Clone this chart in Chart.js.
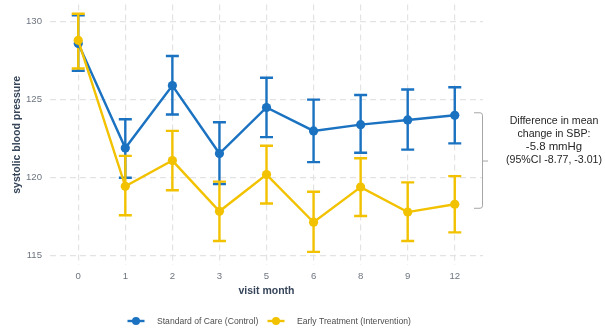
<!DOCTYPE html>
<html>
<head>
<meta charset="utf-8">
<script src="https://cdn.jsdelivr.net/npm/chart.js@4.4.1/dist/chart.umd.min.js"></script>
<style>
  html, body { margin: 0; padding: 0; background: #ffffff; }
  #wrap { width: 605px; height: 329px; position: relative; }
</style>
</head>
<body>
<div id="wrap"><canvas id="chart" width="605" height="329"></canvas></div>
<script>
// Visit months (categorical x axis)
const months = ['0', '1', '2', '3', '5', '6', '8', '9', '12'];

// Standard of Care (Control): mean SBP and 95% CI
const controlMean  = [128.6, 121.9, 125.9, 121.55, 124.5, 123.0, 123.4, 123.7, 124.0];
const controlLower = [126.85, 120.0, 124.05, 119.6, 122.6, 121.0, 121.6, 121.8, 122.2];
const controlUpper = [130.4, 123.75, 127.8, 123.55, 126.4, 125.0, 125.3, 125.65, 125.8];

// Early Treatment (Intervention): mean SBP and 95% CI
const earlyMean  = [128.8, 119.45, 121.1, 117.85, 120.2, 117.15, 119.4, 117.8, 118.3];
const earlyLower = [127.0, 117.6, 119.2, 115.95, 118.35, 115.25, 117.55, 115.95, 116.5];
const earlyUpper = [130.5, 121.4, 123.0, 119.75, 122.05, 119.1, 121.25, 119.7, 120.1];

const yTicks = [115, 120, 125, 130];

const annotationLines = ['Difference in mean', 'change in SBP:', '-5.8 mmHg', '(95%CI -8.77, -3.01)'];

const BLUE = '#1a72c1';
const GOLD = '#f2c200';
const FONT = '"Liberation Sans", Arial, Helvetica, sans-serif';

function toPoints(values) {
  return values.map((v, i) => ({ x: i, y: v }));
}

// Vertical error bars with caps, drawn under the lines and points
const errorBars = {
  id: 'errorBars',
  beforeDatasetsDraw(chart) {
    const { ctx, scales: { x, y } } = chart;
    const cap = 6.5;
    // control first, intervention over it
    const ordered = chart.data.datasets.map((d, i) => i).sort((a, b) => chart.data.datasets[b].order - chart.data.datasets[a].order);
    ctx.save();
    ordered.forEach(i => {
      const ds = chart.data.datasets[i];
      ctx.strokeStyle = ds.borderColor;
      ctx.lineWidth = 2.4;
      ctx.lineCap = 'butt';
      ds.lower.forEach((lo, j) => {
        const px = x.getPixelForValue(j);
        const pLo = y.getPixelForValue(lo);
        const pHi = y.getPixelForValue(ds.upper[j]);
        ctx.beginPath();
        ctx.moveTo(px, pLo); ctx.lineTo(px, pHi);
        ctx.moveTo(px - cap, pLo); ctx.lineTo(px + cap, pLo);
        ctx.moveTo(px - cap, pHi); ctx.lineTo(px + cap, pHi);
        ctx.stroke();
      });
    });
    ctx.restore();
  }
};

// Bracket and text on the right-hand side, and the legend under the axis title
const sideNotes = {
  id: 'sideNotes',
  afterDraw(chart) {
    const { ctx, scales: { y } } = chart;
    const last = months.length - 1;
    const top = y.getPixelForValue(controlMean[last]) - 3;
    const bottom = y.getPixelForValue(earlyMean[last]) + 4.5;
    const mid = (top + bottom) / 2;
    const bx = 482;
    ctx.save();
    ctx.strokeStyle = '#a6a6a6';
    ctx.lineWidth = 1;
    ctx.beginPath();
    ctx.moveTo(474, top + 0.5);
    ctx.lineTo(bx - 2, top + 0.5);
    ctx.quadraticCurveTo(bx + 0.5, top + 0.5, bx + 0.5, top + 3);
    ctx.lineTo(bx + 0.5, bottom - 3);
    ctx.quadraticCurveTo(bx + 0.5, bottom - 0.5, bx - 2, bottom - 0.5);
    ctx.lineTo(474, bottom - 0.5);
    ctx.moveTo(bx + 0.5, mid + 0.5);
    ctx.lineTo(bx + 6, mid + 0.5);
    ctx.stroke();

    // text block, last line level with the bracket's middle tick
    ctx.fillStyle = '#262626';
    ctx.textAlign = 'center';
    ctx.textBaseline = 'middle';
    const cx = 554;
    const gap = 13.3;
    annotationLines.forEach((t, i) => {
      ctx.font = (i === 2 ? '11.4px ' : '10.6px ') + FONT;
      ctx.fillText(t, cx, mid - (annotationLines.length - 1 - i) * gap);
    });

    // legend
    const ly = 321;
    const items = [
      { ds: chart.data.datasets[1], mx: 136, tx: 157 },
      { ds: chart.data.datasets[0], mx: 276, tx: 297 }
    ];
    ctx.textAlign = 'left';
    ctx.font = '8.6px ' + FONT;
    items.forEach(it => {
      ctx.strokeStyle = it.ds.borderColor;
      ctx.lineWidth = 2.4;
      ctx.beginPath();
      ctx.moveTo(it.mx - 8.5, ly); ctx.lineTo(it.mx + 8.5, ly);
      ctx.stroke();
      ctx.fillStyle = it.ds.borderColor;
      ctx.beginPath();
      ctx.arc(it.mx, ly, 4, 0, Math.PI * 2);
      ctx.fill();
      ctx.fillStyle = '#4d4d4d';
      ctx.fillText(it.ds.label, it.tx, ly + 0.5);
    });
    ctx.restore();
  }
};

new Chart(document.getElementById('chart'), {
  type: 'line',
  data: {
    datasets: [
      {
        label: 'Early Treatment (Intervention)',
        data: toPoints(earlyMean),
        lower: earlyLower,
        upper: earlyUpper,
        borderColor: GOLD,
        backgroundColor: GOLD,
        borderWidth: 2.4,
        pointRadius: 4.6,
        pointBorderWidth: 0,
        pointHoverRadius: 4.6,
        tension: 0,
        order: 0
      },
      {
        label: 'Standard of Care (Control)',
        data: toPoints(controlMean),
        lower: controlLower,
        upper: controlUpper,
        borderColor: BLUE,
        backgroundColor: BLUE,
        borderWidth: 2.4,
        pointRadius: 4.6,
        pointBorderWidth: 0,
        pointHoverRadius: 4.6,
        tension: 0,
        order: 1
      }
    ]
  },
  options: {
    responsive: false,
    animation: false,
    events: [],
    layout: { padding: { left: 11, right: 122, top: 0, bottom: 30 } },
    plugins: {
      legend: { display: false },
      tooltip: { enabled: false }
    },
    scales: {
      x: {
        type: 'linear',
        min: -0.6,
        max: months.length - 1 + 0.6,
        afterBuildTicks: s => { s.ticks = months.map((m, i) => ({ value: i })); },
        afterFit: s => { s.height = 34; s.paddingLeft = 0; s.paddingRight = 0; },
        ticks: {
          callback: v => months[v],
          color: '#6e7580',
          font: { family: FONT, size: 9.6 },
          padding: 6,
          maxRotation: 0,
          autoSkip: false
        },
        grid: { color: '#e3e3e3', lineWidth: 1.2, drawTicks: false },
        border: { display: false, dash: [6, 4] },
        title: {
          display: true,
          text: 'visit month',
          color: '#36455a',
          font: { family: FONT, size: 10.5, weight: 'bold' },
          padding: { top: 0, bottom: 2 }
        }
      },
      y: {
        type: 'linear',
        min: 114.41,
        max: 131.09,
        afterBuildTicks: s => { s.ticks = yTicks.map(v => ({ value: v })); },
        afterFit: s => { s.width = 39; s.paddingTop = 0; s.paddingBottom = 0; },
        ticks: {
          color: '#6e7580',
          font: { family: FONT, size: 9.6 },
          padding: 8
        },
        grid: { color: '#e3e3e3', lineWidth: 1.2, drawTicks: false },
        border: { display: false, dash: [6, 4] },
        title: {
          display: true,
          text: 'systolic blood pressure',
          color: '#36455a',
          font: { family: FONT, size: 10.5, weight: 'bold' },
          padding: { top: 0, bottom: 0 }
        }
      }
    }
  },
  plugins: [errorBars, sideNotes]
});
</script>
</body>
</html>
